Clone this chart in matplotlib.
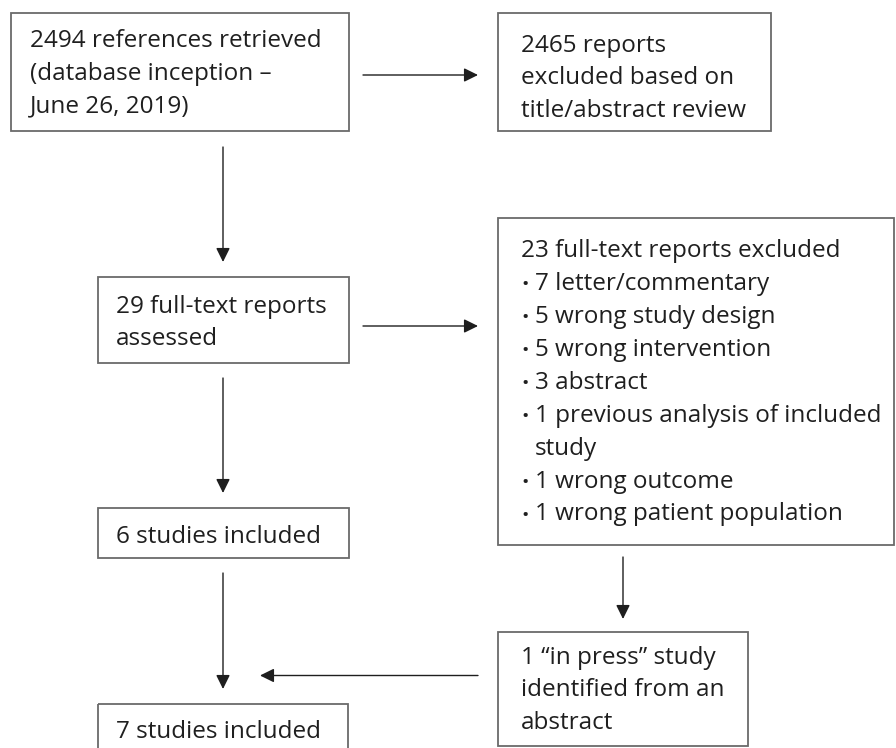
import matplotlib
matplotlib.use("Agg")
import matplotlib.pyplot as plt
from matplotlib.patches import Rectangle, FancyArrowPatch

# texts of the flow chart boxes
refs_lines = ["2494 references retrieved", "(database inception \u2013", "June 26, 2019)"]
excl1_lines = ["2465 reports", "excluded based on", "title/abstract review"]
fulltext_lines = ["29 full-text reports", "assessed"]
excl2_title = "23 full-text reports excluded"
excl2_items = ["7 letter/commentary", "5 wrong study design", "5 wrong intervention",
               "3 abstract", "1 previous analysis of included\nstudy",
               "1 wrong outcome", "1 wrong patient population"]
incl6_lines = ["6 studies included"]
inpress_lines = ["1 \u201cin press\u201d study", "identified from an", "abstract"]
incl7_lines = ["7 studies included"]

W, H = 896, 748
fig = plt.figure(figsize=(W / 100, H / 100), dpi=100)
ax = fig.add_axes([0, 0, 1, 1])
ax.set_xlim(0, W)
ax.set_ylim(H, 0)
ax.axis("off")

FONT = "Open Sans"
FS = 17.5
TXT = "#1f1f1f"
EDGE = "#6a6a6a"
LINE = "#1e1e1e"
STEP = 33


def box(x0, y0, x1, y1):
    ax.add_patch(Rectangle((x0, y0), x1 - x0, y1 - y0, fill=False,
                           edgecolor=EDGE, linewidth=1.3))


def lines(x, y, texts, step=STEP):
    for i, t in enumerate(texts):
        ax.text(x, y + i * step, t, fontsize=FS, family=FONT, color=TXT,
                ha="left", va="baseline")


def arrow(x0, y0, x1, y1):
    ax.add_patch(FancyArrowPatch((x0, y0), (x1, y1),
                                 arrowstyle="-|>,head_length=8.5,head_width=4.2",
                                 mutation_scale=1, color=LINE, linewidth=1.0,
                                 shrinkA=0, shrinkB=0))


# boxes
box(11, 13, 349, 131)
lines(30, 47, refs_lines, 32.5)

box(498, 13, 771, 131)
lines(521, 51.5, excl1_lines, 32.5)

box(98, 277, 349, 363)
lines(116, 313, fulltext_lines, 32)

box(498, 218, 894, 545)
lines(521, 256.5, [excl2_title])
row = 1
for item in excl2_items:
    parts = item.split("\n")
    ax.text(521, 256.5 + row * STEP, "\u2022", fontsize=FS * 0.8, family=FONT,
            color=TXT, ha="left", va="baseline")
    lines(535, 256.5 + row * STEP, parts)
    row += len(parts)

box(98, 508, 349, 558)
lines(116, 543, incl6_lines)

box(498, 632, 748, 746)
lines(521, 664, inpress_lines, 32.5)

box(98, 704, 348, 760)
lines(116, 738, incl7_lines)

# arrows
arrow(363, 75, 478, 75)
arrow(223, 147, 223, 262)
arrow(363, 326, 478, 326)
arrow(223, 378, 223, 493)
arrow(223, 573, 223, 689)
arrow(623, 557, 623, 619)
arrow(478, 675.5, 260, 675.5)

fig.savefig("out.png", dpi=100)
